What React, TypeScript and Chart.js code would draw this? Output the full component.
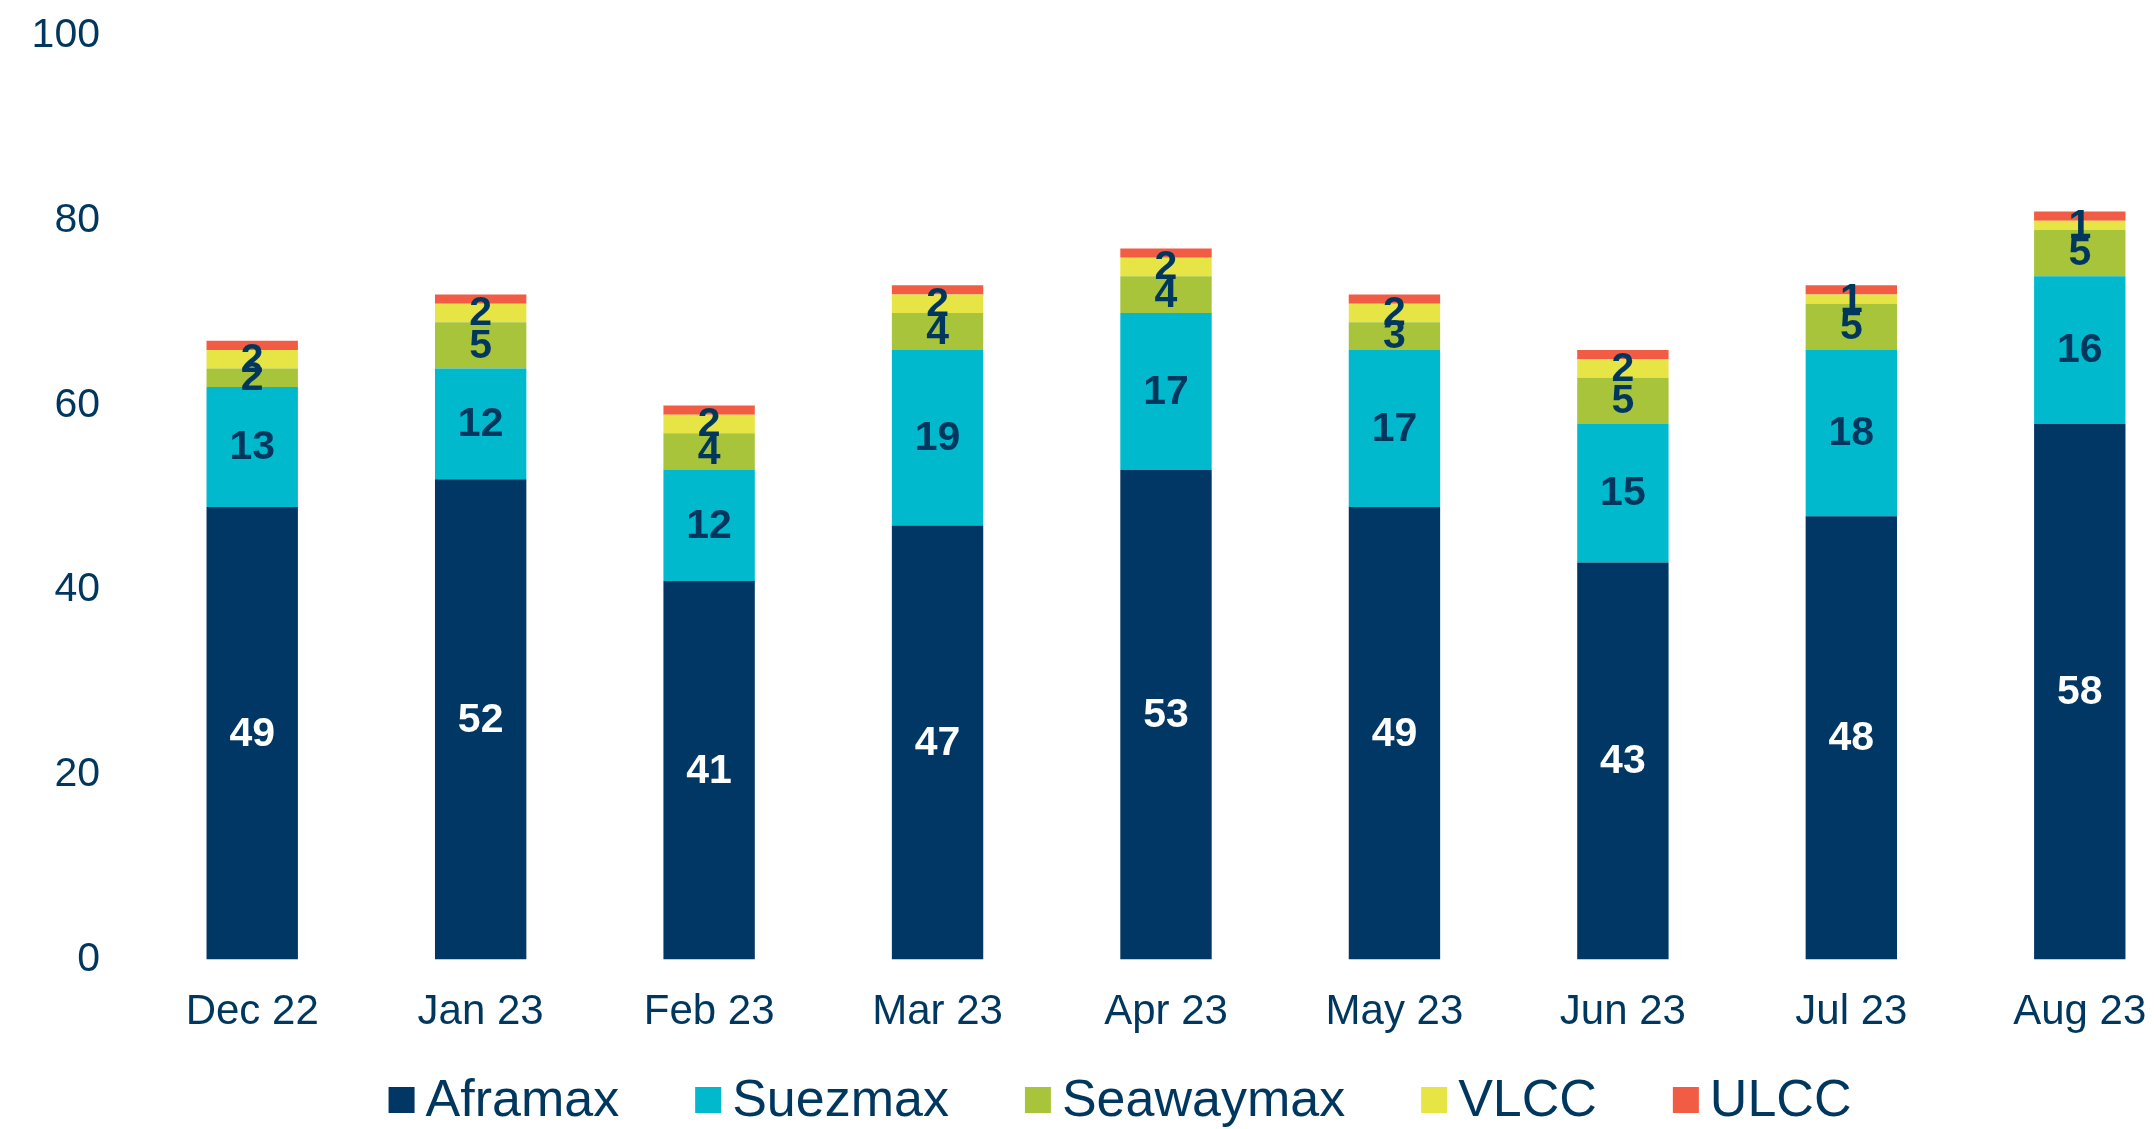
import React, { useEffect, useRef } from "react";
import { Chart, registerables } from "chart.js";

Chart.register(...registerables);

const categories = ["Dec 22", "Jan 23", "Feb 23", "Mar 23", "Apr 23", "May 23", "Jun 23", "Jul 23", "Aug 23"];
const aframax = [49, 52, 41, 47, 53, 49, 43, 48, 58];
const suezmax = [13, 12, 12, 19, 17, 17, 15, 18, 16];
const seawaymax = [2, 5, 4, 4, 4, 3, 5, 5, 5];
const vlcc = [2, 2, 2, 2, 2, 2, 2, 1, 1];
const ulcc = [1, 1, 1, 1, 1, 1, 1, 1, 1];
const yTicks = [0, 20, 40, 60, 80, 100];

const NAVY = "#00375f";
const FONT = "'Liberation Sans', Arial, sans-serif";

const seriesNames = ["Aframax", "Suezmax", "Seawaymax", "VLCC", "ULCC"];
const seriesColors = ["#003764", "#00b9cd", "#a8c43a", "#e6e545", "#f25c44"];
const seriesLabelColors = ["#ffffff", NAVY, NAVY, NAVY, null];

const CANVAS_W = 2194;
const CANVAS_H = 1129;

const valueLabels = {
  id: "valueLabels",
  afterDatasetsDraw(chart: any) {
    const ctx = chart.ctx;
    ctx.save();
    ctx.font = `bold 41px ${FONT}`;
    ctx.textAlign = "center";
    ctx.textBaseline = "middle";
    chart.data.datasets.forEach((ds: any, di: number) => {
      const color = seriesLabelColors[di];
      if (!color) return;
      const meta = chart.getDatasetMeta(di);
      meta.data.forEach((bar: any, i: number) => {
        const v = ds.data[i];
        const yc = (bar.y + bar.base) / 2;
        ctx.fillStyle = color;
        ctx.fillText(String(v), bar.x, yc + 1);
      });
    });
    ctx.restore();
  },
};

const customLegend = {
  id: "customLegend",
  afterDraw(chart: any) {
    const ctx = chart.ctx;
    ctx.save();
    ctx.font = `52px ${FONT}`;
    ctx.textBaseline = "middle";
    ctx.textAlign = "left";
    const box = 26;
    const gapText = 11;
    const gapItem = 76;
    const names = chart.data.datasets.map((d: any) => d.label);
    const widths = names.map((n: string) => box + gapText + ctx.measureText(n).width);
    const total = widths.reduce((a: number, b: number) => a + b, 0) + gapItem * (names.length - 1);
    let x = 1120 - total / 2;
    const yc = 1100;
    names.forEach((n: string, i: number) => {
      ctx.fillStyle = chart.data.datasets[i].backgroundColor;
      ctx.fillRect(x, yc - box / 2, box, box);
      ctx.fillStyle = NAVY;
      ctx.fillText(n, x + box + gapText, yc + 2);
      x += widths[i] + gapItem;
    });
    ctx.restore();
  },
};

export default function App() {
  const ref = useRef<HTMLCanvasElement | null>(null);
  useEffect(() => {
    if (!ref.current) return;
    const seriesData = [aframax, suezmax, seawaymax, vlcc, ulcc];
    const chart = new Chart(ref.current, {
      type: "bar",
      data: {
        labels: categories,
        datasets: seriesNames.map((name, i) => ({
          label: name,
          data: seriesData[i],
          backgroundColor: seriesColors[i],
          borderWidth: 0,
          categoryPercentage: 1,
          barPercentage: 0.4,
        })),
      },
      options: {
        animation: false,
        responsive: false,
        layout: { padding: { top: 36, bottom: 63, left: 0, right: 0 } },
        plugins: {
          legend: { display: false },
          tooltip: { enabled: false },
        },
        scales: {
          x: {
            stacked: true,
            grid: { display: false, drawTicks: false },
            border: { display: false },
            ticks: { color: NAVY, font: { family: FONT, size: 42 }, padding: 28, maxRotation: 0, autoSkip: false },
          },
          y: {
            stacked: true,
            min: 0,
            max: 100,
            afterBuildTicks(scale: any) {
              scale.ticks = yTicks.map((v) => ({ value: v }));
            },
            afterFit(scale: any) {
              scale.width = 138;
              scale.paddingTop = 0;
              scale.paddingBottom = 0;
            },
            grid: { display: false, drawTicks: false },
            border: { display: false },
            ticks: { color: NAVY, font: { family: FONT, size: 41 }, padding: 38 },
          },
        },
      },
      plugins: [valueLabels, customLegend],
    });
    return () => chart.destroy();
  }, []);
  return (
    <div style={{ position: "absolute", left: 0, top: 0, width: 2156, height: 1129, overflow: "hidden", background: "#fff" }}>
      <canvas ref={ref} width={CANVAS_W} height={CANVAS_H} style={{ width: CANVAS_W, height: CANVAS_H, display: "block" }} />
    </div>
  );
}
